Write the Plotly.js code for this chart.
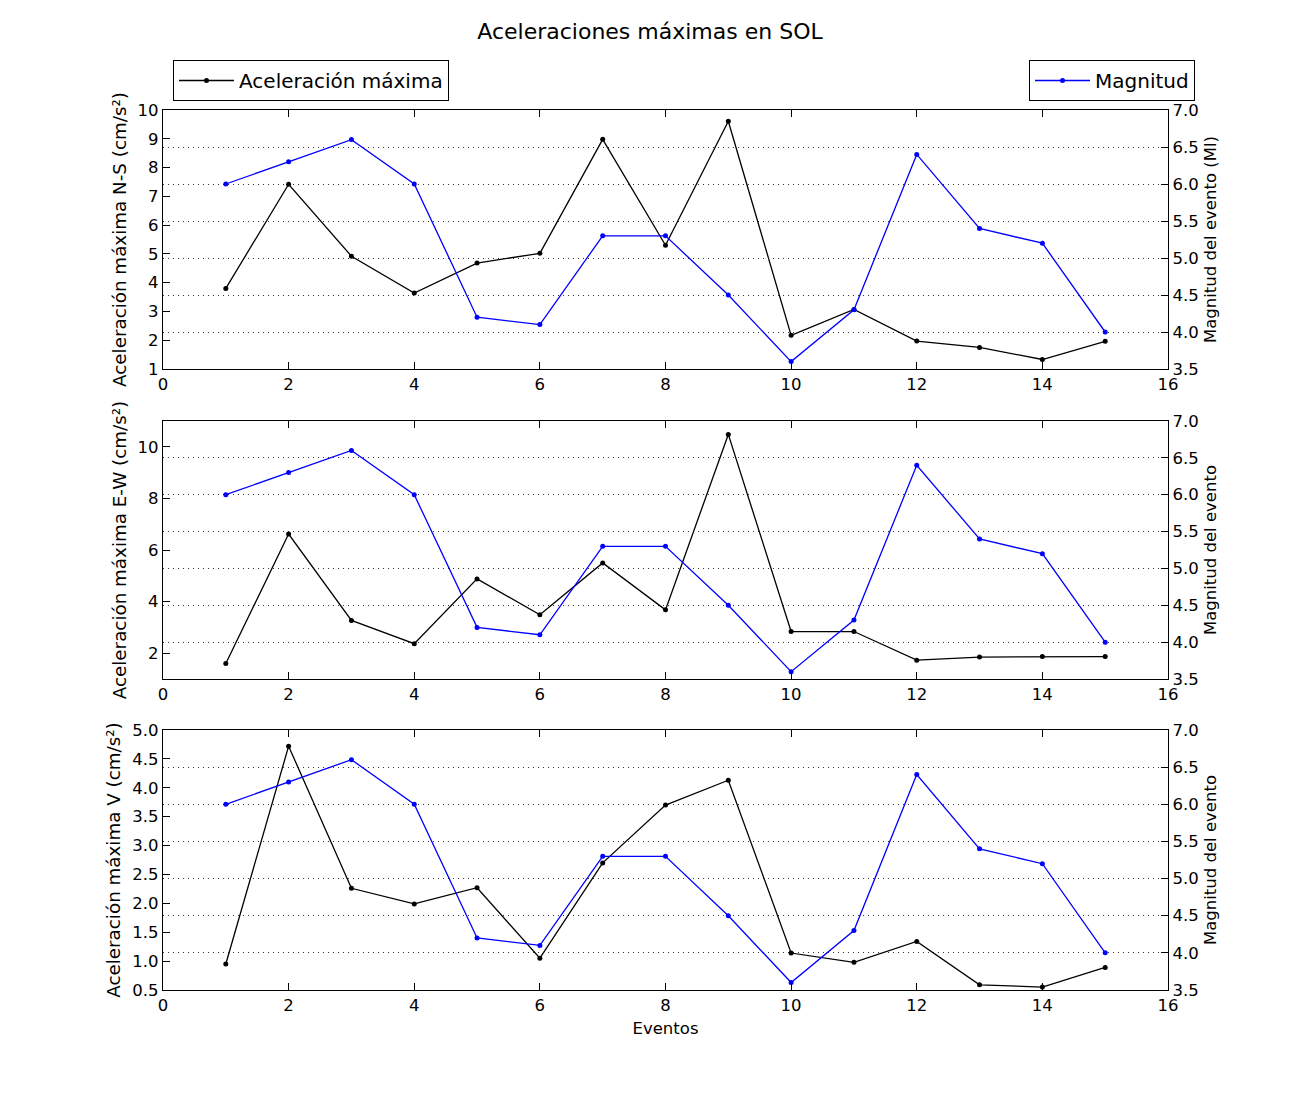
<!DOCTYPE html>
<html>
<head>
<meta charset="utf-8">
<script src="https://cdn.plot.ly/plotly-3.0.1.min.js"></script>
<style>html,body{margin:0;padding:0;background:#fff;}#chart{width:1300px;height:1100px;}</style>
</head>
<body>
<div id="chart"></div>
<script>
const eventos = [1,2,3,4,5,6,7,8,9,10,11,12,13,14,15];
const magnitud = [6.0,6.3,6.6,6.0,4.2,4.1,5.3,5.3,4.5,3.6,4.3,6.4,5.4,5.2,4.0];
const accNS = [3.80,7.42,4.92,3.64,4.68,5.02,8.98,5.30,9.61,2.17,3.07,1.97,1.75,1.33,1.96];
const accEW = [1.60,6.62,3.27,2.37,4.88,3.49,5.50,3.68,10.48,2.84,2.84,1.73,1.85,1.87,1.87];
const accV  = [0.95,4.72,2.26,1.99,2.27,1.05,2.70,3.70,4.13,1.14,0.98,1.34,0.59,0.55,0.89];

const leftTitles = ["Aceleración máxima N-S (cm/s²)","Aceleración máxima E-W (cm/s²)","Aceleración máxima V (cm/s²)"];
const rightTitles = ["Magnitud del evento (Ml)","Magnitud del evento","Magnitud del evento"];
const chartTitle = "Aceleraciones máximas en SOL";
const xTitle = "Eventos";
const accName = "Aceleración máxima";
const magName = "Magnitud";

const W = 1300, H = 1100;
const FONT = "DejaVu Sans, Liberation Sans, sans-serif";
const TF = 16.5;

const accSets = [accNS, accEW, accV];
const panels = [
  {top:110, bottom:369, lrange:[1,10], ldtick:1, lfmt:"d"},
  {top:421, bottom:679, lrange:[1,11], ldtick:2, lfmt:"d"},
  {top:730, bottom:990, lrange:[0.5,5.0], ldtick:0.5, lfmt:".1f"}
];
const xL = 163, xR = 1168;

const traces = [];
const layout = {
  width: W, height: H,
  margin: {l:0, r:0, t:0, b:0},
  paper_bgcolor: "#fff", plot_bgcolor: "#fff",
  font: {family: FONT, size: TF, color: "#000"},
  title: {text: chartTitle, x: 0.5, xanchor: "center", y: 1 - 31/H, yanchor: "middle", font: {size: 22, family: FONT, color:"#000"}},
  legend: {x: 173/W, y: 1 - 60/H, xanchor: "left", yanchor: "top", bordercolor: "#000", borderwidth: 1, bgcolor: "#fff", itemwidth: 55, font: {size: 20, family: FONT}},
  legend2: {x: 1195/W, y: 1 - 60/H, xanchor: "right", yanchor: "top", bordercolor: "#000", borderwidth: 1, bgcolor: "#fff", itemwidth: 55, font: {size: 20, family: FONT}},
  showlegend: true
};

panels.forEach((p, i) => {
  const xi = i + 1;
  const yl = 2*i + 1, yr = 2*i + 2;
  const xName = xi === 1 ? "x" : "x" + xi;
  const ylName = yl === 1 ? "y" : "y" + yl;
  const yrName = "y" + yr;
  const xKey = xi === 1 ? "xaxis" : "xaxis" + xi;
  const ylKey = yl === 1 ? "yaxis" : "yaxis" + yl;
  const yrKey = "yaxis" + yr;
  const dom = [1 - p.bottom/H, 1 - p.top/H];

  traces.push({
    x: eventos, y: accSets[i], xaxis: xName, yaxis: ylName, type: "scatter", mode: "lines+markers",
    name: accName, legend: "legend", showlegend: i === 0,
    line: {color: "#000", width: 1.3}, marker: {color: "#000", size: 5}
  });
  traces.push({
    x: eventos, y: magnitud, xaxis: xName, yaxis: yrName, type: "scatter", mode: "lines+markers",
    name: magName, legend: "legend2", showlegend: i === 0,
    line: {color: "#0000ff", width: 1.3}, marker: {color: "#0000ff", size: 5}
  });

  layout[xKey] = {
    domain: [xL/W, xR/W], anchor: ylName, range: [0, 16], dtick: 2, tick0: 0,
    ticks: "inside", ticklen: 7, tickcolor: "#000", mirror: "ticks",
    showline: true, linecolor: "#000", linewidth: 1.3, showgrid: false, zeroline: false,
    tickfont: {size: TF, family: FONT, color: "#000"},
    title: i === 2 ? {text: xTitle, font: {size: TF, family: FONT, color: "#000"}, standoff: 8} : {text: ""}
  };
  layout[ylKey] = {
    domain: dom, anchor: xName, side: "left", range: p.lrange, dtick: p.ldtick, tick0: 0, tickformat: p.lfmt,
    ticks: "inside", ticklen: 7, tickcolor: "#000", mirror: true,
    showline: true, linecolor: "#000", linewidth: 1.3, showgrid: false, zeroline: false,
    tickfont: {size: TF, family: FONT, color: "#000"},
    title: {text: leftTitles[i], font: {size: 18.3, family: FONT, color: "#000"}, standoff: 6}
  };
  layout[yrKey] = {
    domain: dom, anchor: xName, overlaying: ylName, side: "right", range: [3.5, 7.0], dtick: 0.5, tick0: 0, tickformat: ".1f",
    ticks: "inside", ticklen: 7, tickcolor: "#000",
    showline: true, linecolor: "#000", linewidth: 1.3,
    showgrid: true, gridcolor: "#333", gridwidth: 1, griddash: "1px,4px", zeroline: false,
    tickfont: {size: TF, family: FONT, color: "#000"},
    title: {text: rightTitles[i], font: {size: TF, family: FONT, color: "#000"}, standoff: 6}
  };
});

Plotly.newPlot("chart", traces, layout, {displayModeBar: false, staticPlot: true});
</script>
</body>
</html>
